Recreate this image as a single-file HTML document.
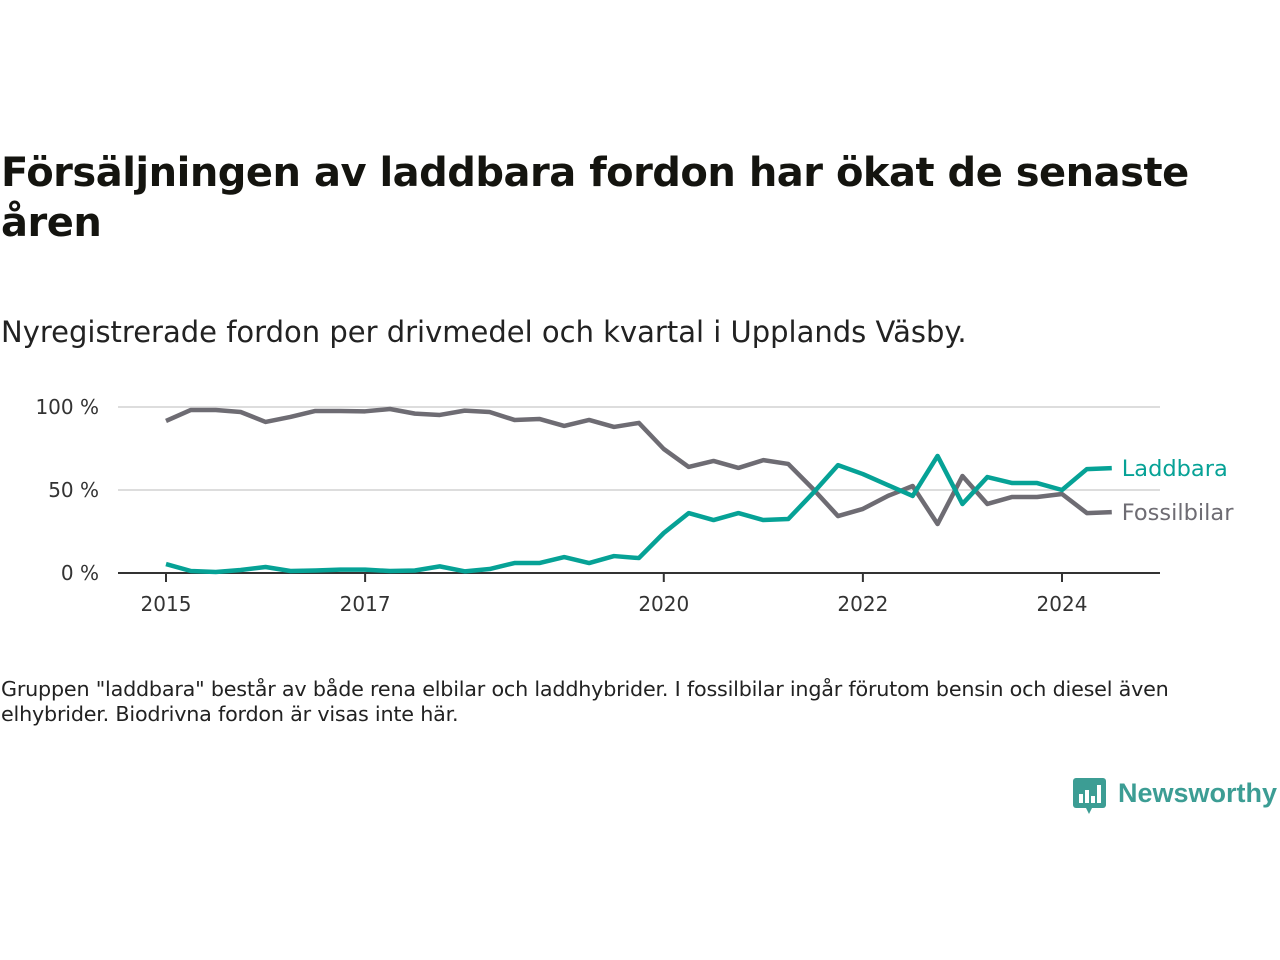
<!DOCTYPE html>
<html><head><meta charset="utf-8"><style>
body{margin:0;width:1280px;height:960px;background:#fff;font-family:"DejaVu Sans","Liberation Sans",sans-serif;color:#111;position:relative;overflow:hidden}
#title{position:absolute;left:1px;top:148px;font-size:40px;font-weight:bold;line-height:50px;width:1210px;color:#14140f;letter-spacing:-0.5px}
#sub{position:absolute;left:1px;top:315px;font-size:29px;color:#222;letter-spacing:0px}
#note{position:absolute;left:1px;top:677px;font-size:20.7px;line-height:25px;width:1215px;color:#222;letter-spacing:-0.2px}
#logo{position:absolute;left:1072px;top:776px}
</style></head><body>
<div id="title">Försäljningen av laddbara fordon har ökat de senaste åren</div>
<div id="sub">Nyregistrerade fordon per drivmedel och kvartal i Upplands Väsby.</div>
<svg id="chart" width="1280" height="960" style="position:absolute;left:0;top:0"></svg>
<div id="note">Gruppen "laddbara" består av både rena elbilar och laddhybrider. I fossilbilar ingår förutom bensin och diesel även elhybrider. Biodrivna fordon är visas inte här.</div>
<div id="logo">
<svg width="210" height="42">
<rect x="1" y="2" width="33" height="30" rx="3" fill="#3c9d94"/>
<polygon points="14,32 20,32 17,38" fill="#3c9d94"/>
<rect x="7" y="18" width="4" height="9" fill="#fff"/><rect x="13" y="14" width="4" height="13" fill="#fff"/><rect x="19" y="20" width="4" height="7" fill="#fff"/><rect x="25" y="9" width="4" height="18" fill="#fff"/>
<text x="46" y="26" font-size="27" font-weight="bold" fill="#3c9d94" font-family="Liberation Sans, sans-serif">Newsworthy</text>
</svg></div>
<script>
const years=[2015,2017,2020,2022,2024];
const yTicks=[0,50,100];
const laddbara=[5.4,1.2,0.6,1.8,3.6,1.2,1.5,2,2,1.2,1.5,4,1,2.4,6,6,9.6,6,10.2,9,24.1,36.1,31.9,36.1,31.9,32.5,48.2,65,59.6,53,46.4,70.5,41.6,57.8,54.2,54.2,50,62.6,63.2];
const fossil=[91.6,98.2,98.2,97,91,94,97.6,97.6,97.4,98.8,96,95.2,97.8,97,92.2,92.8,88.6,92.2,88,90.4,74.7,63.9,67.5,63.3,68,65.7,50.6,34.3,38.6,46.4,52.4,29.5,58.4,41.6,45.8,45.8,47.6,36.1,36.7];
const svg=document.getElementById('chart');const NS='http://www.w3.org/2000/svg';
const x=q=>166+q*(1062-166)/36;
const xy=yr=>x((yr-2015)*4);
const y=v=>573-v*1.66;
function mk(t,a){const e=document.createElementNS(NS,t);for(const k in a)e.setAttribute(k,a[k]);svg.appendChild(e);return e;}
yTicks.forEach(v=>{
 if(v>0){const g=mk('line',{x1:118,x2:1160,y1:y(v),y2:y(v),stroke:'#ddd','stroke-width':2});
 
 }
 const t=mk('text',{x:99,y:y(v)+7,'text-anchor':'end','font-size':20,fill:'#333','font-family':'DejaVu Sans, sans-serif'});t.textContent=v+' %';
 
 
});
const ax=mk('line',{x1:118,x2:1160,y1:573,y2:573,stroke:'#333','stroke-width':2});


years.forEach(yr=>{
 const tk=mk('line',{x1:xy(yr),x2:xy(yr),y1:573,y2:582,stroke:'#333','stroke-width':2});
 
 
 const t=mk('text',{x:xy(yr),y:611,'text-anchor':'middle','font-size':20,fill:'#333','font-family':'DejaVu Sans, sans-serif'});t.textContent=yr;
 
 
});
function line(d,c,name,label){
 const p=mk('polyline',{points:d.map((v,i)=>x(i)+','+y(v)).join(' '),fill:'none',stroke:c,'stroke-width':4.5,'stroke-linejoin':'round'});
 
 
 const l=d[d.length-1];
 const t=mk('text',{x:x(d.length-1)+10,y:y(l)+8,'font-size':22.5,fill:c,'font-family':'DejaVu Sans, sans-serif'});t.textContent=label;
 
 
}
line(fossil,'#6e6c73','fossilbilar-line','Fossilbilar');
line(laddbara,'#06a296','laddbara-line','Laddbara');
</script>
</body></html>
